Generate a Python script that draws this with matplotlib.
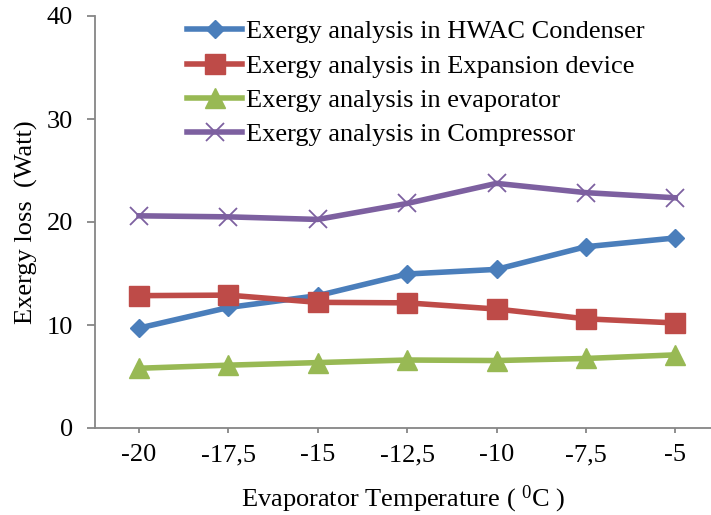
import matplotlib
matplotlib.use("Agg")
import matplotlib.pyplot as plt

plt.rcParams['font.family'] = ['Liberation Serif', 'DejaVu Serif']
plt.rcParams['mathtext.fontset'] = 'custom'
plt.rcParams['mathtext.rm'] = 'Liberation Serif'

temps = [-20, -17.5, -15, -12.5, -10, -7.5, -5]
tick_labels = ['-20', '-17,5', '-15', '-12,5', '-10', '-7,5', '-5']
condenser = [9.7, 11.7, 12.85, 14.95, 15.4, 17.6, 18.45]
expansion = [12.85, 12.9, 12.2, 12.15, 11.55, 10.6, 10.2]
evaporator = [5.8, 6.1, 6.35, 6.6, 6.55, 6.75, 7.1]
compressor = [20.6, 20.5, 20.25, 21.8, 23.75, 22.85, 22.35]

labels = ['Exergy analysis in HWAC Condenser',
          'Exergy analysis in Expansion device',
          'Exergy analysis in evaporator',
          'Exergy analysis in Compressor']

fig = plt.figure(figsize=(7.11, 5.15), dpi=100)
ax = fig.add_axes([94.7/711, (515-428)/515, 1 - 94.7/711, (428-16)/515])

lw = 4.0
ax.plot(temps, condenser, color='#4A7EBB', lw=lw, marker='D', ms=9.4, label=labels[0], zorder=3)
ax.plot(temps, expansion, color='#BE4B48', lw=lw, marker='s', ms=13.7, label=labels[1], zorder=4)
ax.plot(temps, evaporator, color='#98B954', lw=lw, marker='^', ms=14, label=labels[2], zorder=3)
ax.plot(temps, compressor, color='#7D60A0', lw=lw, marker='x', ms=13.5, mew=1.3, label=labels[3], zorder=3)

ax.set_xlim(-21.24, -4.0)
ax.set_ylim(0, 40)
ax.set_xticks(temps)
ax.set_xticklabels(tick_labels)
ax.set_yticks([0, 10, 20, 30, 40])

for s in ['top', 'right']:
    ax.spines[s].set_visible(False)
for s in ['left', 'bottom']:
    ax.spines[s].set_color('#868686')
    ax.spines[s].set_linewidth(1.3)
ax.tick_params(axis='y', direction='out', length=5.7, width=1.3, color='#868686', labelsize=19, pad=10)
ax.tick_params(axis='x', direction='out', length=3.5, width=1.3, color='#868686', labelsize=19, pad=8)

ax.set_ylabel('Exergy loss  (Watt)', fontsize=19, labelpad=6)
ax.set_xlabel('Evaporator Temperature ( $\\mathregular{^0}$C )', fontsize=19, labelpad=6)
ax.xaxis.set_label_coords(0.5, -0.135)

leg = ax.legend(loc='upper left', bbox_to_anchor=(187/711, 1 - 20/515), bbox_transform=fig.transFigure,
                frameon=False, fontsize=19, handlelength=2.1, handletextpad=0.15,
                labelspacing=0.41, borderpad=0, borderaxespad=0)

fig.savefig('out.png', dpi=100)
